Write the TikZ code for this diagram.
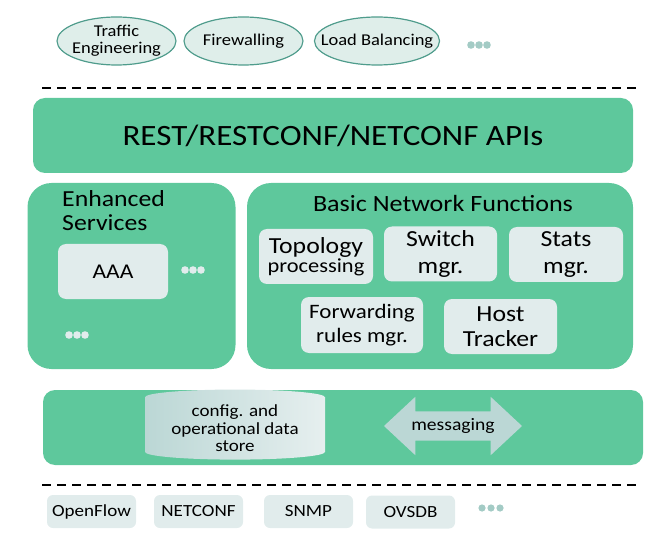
\documentclass[tikz,border=0pt]{standalone}
\usepackage{fontspec}
\setmainfont[FakeStretch=1.12]{Carlito}
\usetikzlibrary{shapes}
\usepackage{xcolor}
\definecolor{odlgreen}{HTML}{5EC89C}
\definecolor{boxgrey}{HTML}{E1ECEC}
\definecolor{ovalfill}{HTML}{DFEEEA}
\definecolor{ovalline}{HTML}{4F9C8C}
\definecolor{dotgrey}{HTML}{A3CBC5}
\definecolor{storeleft}{HTML}{BBD7D5}
\definecolor{storeright}{HTML}{E6EFEF}

\begin{document}
\begin{tikzpicture}[x=1pt,y=-1pt,
					layer/.style={fill=odlgreen, rounded corners=12pt, minimum width=600pt, minimum height=75pt, inner sep=0pt},
					group/.style={fill=odlgreen, rounded corners=24pt, minimum height=186pt, inner sep=0pt},
					func/.style={fill=boxgrey, rounded corners=8pt, minimum width=113pt, minimum height=55pt, inner sep=0pt, align=center, font=\fontsize{23}{25}\selectfont},
					app/.style={ellipse, draw=ovalline, line width=1.2pt, fill=ovalfill, minimum width=119pt, minimum height=48pt, inner sep=-12pt, align=center, font=\fontsize{16.5}{17}\selectfont},
					proto/.style={fill=boxgrey, rounded corners=6pt, minimum width=89pt, minimum height=33pt, inner sep=0pt, font=\fontsize{17}{17}\selectfont},
					sep/.style={line width=2pt, dash pattern=on 9pt off 6pt}]
    \useasboundingbox (0,0) rectangle (653,545);
    % Applications
    \node [app] (te) at (116.5,41){Traffic\\Engineering};
    \node [app] (fw) at (243.5,41){Firewalling};
    \node [app] (lb) at (377,41){Load Balancing};
    \foreach \dx in {0,8,16} \fill[dotgrey] (471+\dx,45) circle (3.8pt);
    \coordinate (topl) at (42,88);
    \coordinate (topr) at (638,88);
    \draw [sep] (topl) -- (topr);
    % Northbound APIs
    \node [layer] (api) at (333,135.5){\fontsize{29.5}{30}\selectfont REST/RESTCONF/NETCONF APIs};
    % Enhanced services
    \node [group, minimum width=208pt] (enh) at (131.5,276){};
    \node [anchor=north west, inner sep=0pt, align=left, font=\fontsize{23}{24}\selectfont] (enhtitle) at (62,190){Enhanced\\Services};
    \node [func, minimum width=110pt, font=\fontsize{21}{21}\selectfont] (aaa) at (113,271.5){AAA};
    \foreach \dx in {0,8,16} \fill[boxgrey] (185+\dx,270) circle (3.8pt);
    \foreach \dx in {0,8,16} \fill[boxgrey] (69+\dx,335) circle (3.8pt);
    % Basic network functions
    \node [group, minimum width=386pt] (bnf) at (440,276){};
    \node [font=\fontsize{23.3}{23}\selectfont, inner sep=0pt] (bnftitle) at (443,203){Basic Network Functions};
    \node [func, minimum width=114pt] (topo) at (316,256.5){Topology\\[-6pt]{\fontsize{20}{20}\selectfont processing}};
    \node [func] (switch) at (440.5,254){Switch\\[2pt]mgr.};
    \node [func, minimum width=114pt] (stats) at (566,254.5){Stats\\[2pt]mgr.};
    \node [func, minimum width=122pt, minimum height=56pt, font=\fontsize{20.5}{24}\selectfont] (fwd) at (362,325){Forwarding\\rules mgr.};
    \node [func] (host) at (500.5,326.5){Host\\Tracker};
    % Data store and messaging
    \node [layer] (core) at (343,427.5){};
    \node [cylinder, shape border rotate=90, aspect=0.12, minimum width=180pt, minimum height=67pt, inner sep=0pt,
           left color=storeleft, right color=storeright, align=center, font=\fontsize{17}{17.5}\selectfont] (store) at (235,428.5){config. and\\operational data\\store};
    \node [double arrow, double arrow head extend=14.5pt, double arrow tip angle=86, minimum height=138pt,
           inner xsep=0pt, inner ysep=7pt, left color=storeleft, middle color=storeright, right color=storeleft,
           font=\fontsize{17.5}{18}\selectfont] (msg) at (453,426){messaging};
    \coordinate (botl) at (42,485);
    \coordinate (botr) at (638,485);
    \draw [sep] (botl) -- (botr);
    % Southbound protocols
    \node [proto] (of) at (91.5,511.5){OpenFlow};
    \node [proto] (nc) at (198.5,511.5){NETCONF};
    \node [proto] (snmp) at (308.5,511.5){SNMP};
    \node [proto] (ovsdb) at (410.5,512){OVSDB};
    \foreach \dx in {0,9,18} \fill[dotgrey] (482+\dx,508) circle (3.6pt);
\end{tikzpicture}
\end{document}
